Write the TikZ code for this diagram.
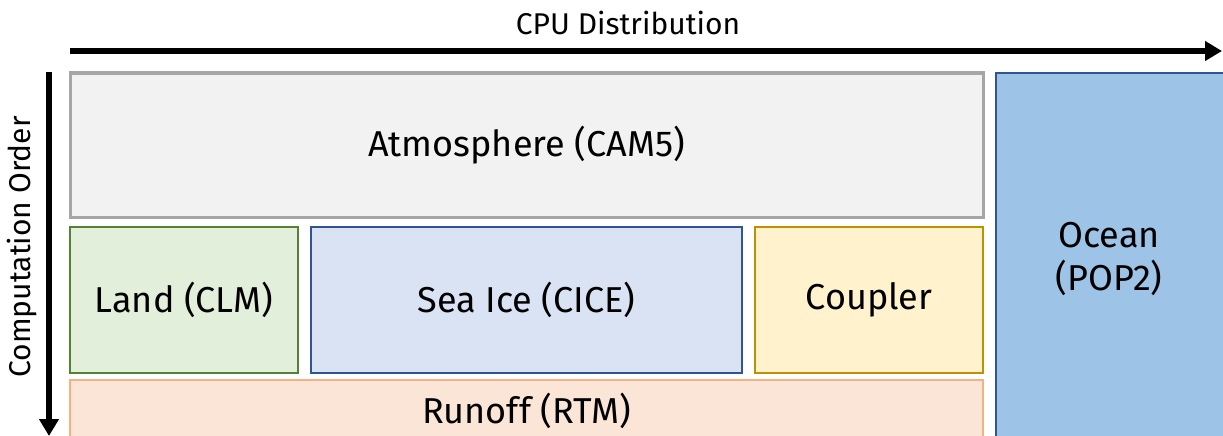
\documentclass[tikz,border=0pt]{standalone}
\usepackage{fontspec}
\setmainfont{Fira Sans}
\usetikzlibrary{arrows.meta}
\begin{document}
\begin{tikzpicture}[x=1pt,y=1pt,
  comp/.style={draw, line width=2.5pt, rectangle, inner sep=0pt, font=\fontsize{36}{43}\selectfont},
  axis/.style={line width=5.5pt, -{Triangle[length=17pt,width=19pt]}},
  lbl/.style={font=\fontsize{30}{36}\selectfont, inner sep=0pt}]
\useasboundingbox (0,0) rectangle (1223,-436);
\clip (0,0) rectangle (1223,-436);
\definecolor{atmfill}{HTML}{F2F2F2}\definecolor{atmdraw}{HTML}{A6A6A6}
\definecolor{ocnfill}{HTML}{9DC3E6}\definecolor{ocndraw}{HTML}{2F5597}
\definecolor{lndfill}{HTML}{E2EFDA}\definecolor{lnddraw}{HTML}{548235}
\definecolor{icefill}{HTML}{DAE3F3}\definecolor{icedraw}{HTML}{2F5597}
\definecolor{cplfill}{HTML}{FFF2CC}\definecolor{cpldraw}{HTML}{BF9000}
\definecolor{rofill}{HTML}{FBE5D6}\definecolor{rodraw}{HTML}{F4B183}
% axes
\coordinate (hs) at (70,-51);
\coordinate (he) at (1222,-51);
\coordinate (vs) at (49,-72);
\coordinate (ve) at (49,-436);
\draw[axis] (hs) -- (he);
\draw[axis] (vs) -- (ve);
\node[lbl] (cpu) at (628,-23) {CPU Distribution};
\node[lbl, rotate=90] (order) at (22,-247) {Computation Order};
% components
\node[comp, draw=atmdraw, line width=3pt, fill=atmfill, minimum width=913pt, minimum height=144pt] (atm) at (526.5,-145) {Atmosphere (CAM5)};
\node[comp, draw=ocndraw, fill=ocnfill, minimum width=230pt, minimum height=370pt] (ocn) at (1111,-258) {};
\node[comp, draw=none, align=center] (ocntext) at (1109,-259) {Ocean\\(POP2)};
\node[comp, draw=lnddraw, fill=lndfill, minimum width=228pt, minimum height=146pt] (lnd) at (184,-300) {Land (CLM)};
\node[comp, draw=icedraw, fill=icefill, minimum width=431pt, minimum height=146pt] (ice) at (526.5,-300) {Sea Ice (CICE)};
\node[comp, draw=cpldraw, fill=cplfill, minimum width=228pt, minimum height=146pt] (cpl) at (869,-300) {Coupler};
\node[comp, draw=rodraw, fill=rofill, minimum width=913pt, minimum height=62pt] (rof) at (526.5,-411) {Runoff (RTM)};
\end{tikzpicture}
\end{document}
